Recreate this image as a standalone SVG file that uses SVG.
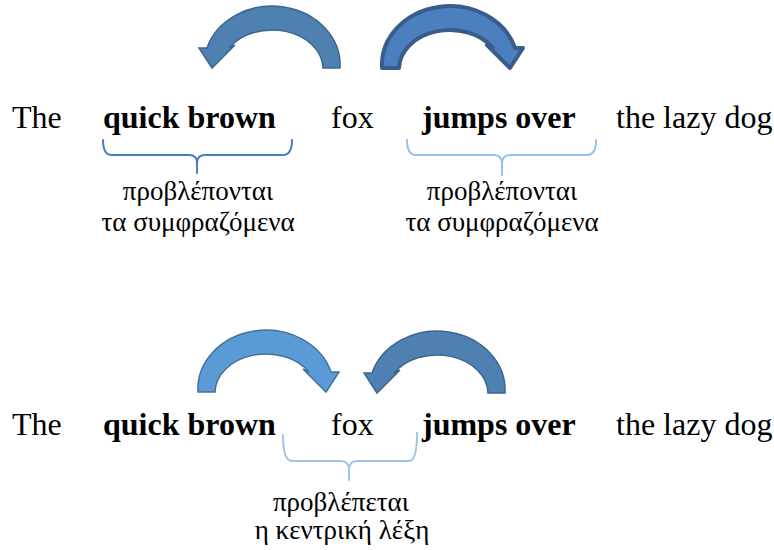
<svg xmlns="http://www.w3.org/2000/svg" xmlns:xlink="http://www.w3.org/1999/xlink" width="774" height="550" viewBox="0 0 774 550">
  <style>
    .w { font-family: "Liberation Serif", "Times New Roman", serif; font-size: 32px; fill: #000; }
    .b { font-weight: bold; }
    .lbl { font-family: "Liberation Serif", "Times New Roman", serif; font-size: 27px; fill: #000; text-anchor: middle; }
    .brace { fill: none; stroke-width: 2; stroke-linecap: round; stroke-linejoin: round; }
    .arrow-a { fill: #4e80b2; stroke: #3b6690; stroke-width: 1.5; }
    .arrow-b { fill: #4b7fbf; stroke: #385d8a; stroke-width: 4; stroke-linejoin: round; }
    .arrow-c { fill: #5b9bd5; stroke: #41719c; stroke-width: 1.5; }
  </style>
  <defs>
    <!-- curved arrow bending over the top, head pointing down-left -->
    <path id="curl" d="M 340 68 A 68 59 0 0 0 207 48 L 199 48 L 212 68 L 235 45 L 229 48 A 51 39 0 0 1 323 68 Z"/>
  </defs>

  <g id="connectors">
    <use id="arrow-top-left" class="arrow-a" xlink:href="#curl"/>
    <use id="arrow-top-right" class="arrow-b" xlink:href="#curl" transform="translate(722,0) scale(-1,1)"/>
    <use id="arrow-bottom-left" class="arrow-c" xlink:href="#curl" transform="translate(538,324) scale(-1,1)"/>
    <use id="arrow-bottom-right" class="arrow-a" xlink:href="#curl" transform="translate(165,325)"/>

    <path id="brace-top-left" class="brace" stroke="#4a7ebd"
          d="M 103 140 Q 103 155 112 155 L 189 155 Q 197 155 197 163 Q 197 155 205 155 L 283 155 Q 292 155 292 140 M 197 163 L 197 173"/>
    <path id="brace-top-right" class="brace" stroke="#92c0ea"
          d="M 407 140 Q 407 155 416 155 L 494 155 Q 502 155 502 164 Q 502 155 510 155 L 587 155 Q 596 155 596 140 M 502 164 L 502 175"/>
    <path id="brace-bottom" class="brace" stroke="#9dc5ea" stroke-width="1.5"
          d="M 283 435 Q 283 461 292 461 L 341 461 Q 349 461 349 470 Q 349 461 357 461 L 409 461 Q 417 461 417 433 M 349 470 L 349 480"/>
  </g>

  <g id="sentence-top">
    <text id="t-the" class="w" x="12" y="128">The</text>
    <text id="t-quick" class="w b" x="103" y="128">quick brown</text>
    <text id="t-fox" class="w" x="331" y="128">fox</text>
    <text id="t-jumps" class="w b" x="422" y="128">jumps over</text>
    <text id="t-dog" class="w" x="616" y="128">the lazy dog</text>
  </g>

  <g id="label-top-left">
    <text class="lbl" x="198" y="200">προβλέπονται</text>
    <text class="lbl" x="198" y="231">τα συμφραζόμενα</text>
  </g>
  <g id="label-top-right">
    <text class="lbl" x="502" y="200">προβλέπονται</text>
    <text class="lbl" x="502" y="231">τα συμφραζόμενα</text>
  </g>

  <g id="sentence-bottom">
    <text id="b-the" class="w" x="12" y="435">The</text>
    <text id="b-quick" class="w b" x="103" y="435">quick brown</text>
    <text id="b-fox" class="w" x="331" y="435">fox</text>
    <text id="b-jumps" class="w b" x="422" y="435">jumps over</text>
    <text id="b-dog" class="w" x="616" y="435">the lazy dog</text>
  </g>

  <g id="label-bottom">
    <text class="lbl" x="341" y="511">προβλέπεται</text>
    <text class="lbl" x="342" y="539">η κεντρική λέξη</text>
  </g>
</svg>
